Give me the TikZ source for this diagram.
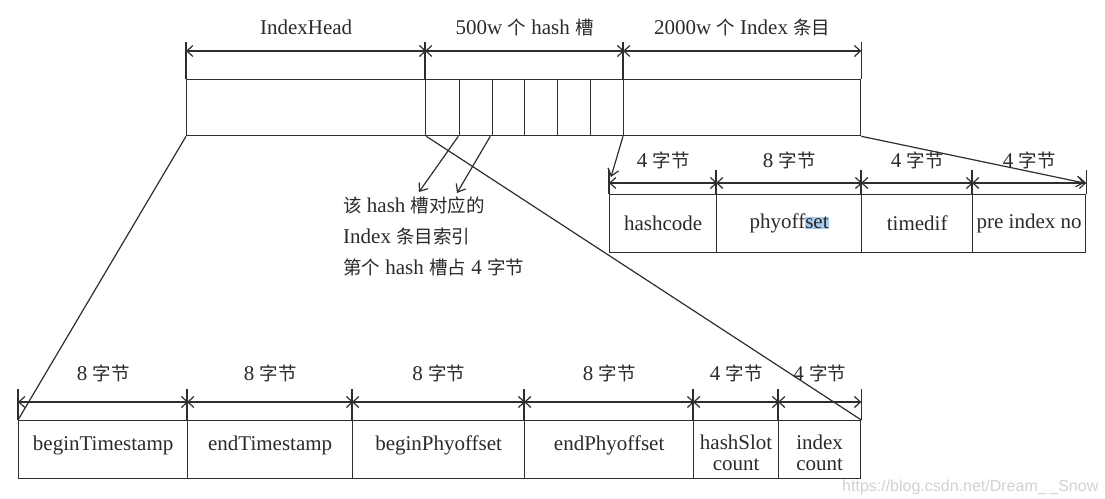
\documentclass[tikz,border=0pt]{standalone}
\usepackage{fontspec}
\setmainfont{Liberation Serif}
\newfontfamily\cjk[Scale=0.88]{Noto Sans CJK SC}
\newfontfamily\wmfont{Liberation Sans}
\usetikzlibrary{arrows.meta,calc}
\newcommand{\zh}[1]{{\cjk #1}}
\newcommand{\fs}{\fontsize{21}{23}\selectfont}
\newcommand{\twol}[2]{\fontsize{21}{20.5}\selectfont\begin{tabular}[t]{@{}c@{}}#1\\#2\end{tabular}}
\definecolor{lc}{HTML}{2E2E2E}
\definecolor{tc}{HTML}{2A2A2A}
\definecolor{hl}{HTML}{A9CBEA}
\begin{document}
\begin{tikzpicture}[x=1pt,y=-1pt,
  cell/.style={draw=lc, line width=1.3pt, anchor=north west, inner sep=0pt, font=\fs, text=tc, align=center},
  one/.style={text height=12pt, text depth=10pt},
  two/.style={text height=20pt, text depth=20pt},
  lbl/.style={font=\fs, text=tc, inner sep=0pt},
  tick/.style={draw=lc, line width=1.2pt},
  dim/.style={draw=lc, line width=1.2pt, {Straight Barb[length=6pt,width=11pt]}-{Straight Barb[length=6pt,width=11pt]}},
  conn/.style={draw=lc, line width=1.2pt},
  arr/.style={draw=lc, line width=1.2pt, -{Straight Barb[length=7pt,width=11pt]}}]
\useasboundingbox (0,0) rectangle (1105,498);

% ---------- top structure ----------
\node[cell, minimum width=239pt, minimum height=56pt] (head) at (186,79) {};
\node[cell, minimum width=34pt, minimum height=56pt] (s1) at (425,79) {};
\node[cell, minimum width=33pt, minimum height=56pt] (s2) at (459,79) {};
\node[cell, minimum width=32pt, minimum height=56pt] (s3) at (492,79) {};
\node[cell, minimum width=33pt, minimum height=56pt] (s4) at (524,79) {};
\node[cell, minimum width=33pt, minimum height=56pt] (s5) at (557,79) {};
\node[cell, minimum width=33pt, minimum height=56pt] (s6) at (590,79) {};
\node[cell, minimum width=237pt, minimum height=56pt] (idx) at (623,79) {};

\foreach \n in {head.north west, s1.north west, idx.north west, idx.north east}
  \draw[tick] (\n) -- ([yshift=37pt]\n);
\draw[dim] ([yshift=28pt]head.north west) -- ([yshift=28pt]head.north east);
\draw[dim] ([yshift=28pt]s1.north west) -- ([yshift=28pt]s6.north east);
\draw[dim] ([yshift=28pt]idx.north west) -- ([yshift=28pt]idx.north east);

\node[lbl] (lh) at ([yshift=52pt]head.north) {IndexHead};
\node[lbl] (ls) at ([yshift=52pt]$(s1.north west)!0.5!(s6.north east)$) {500w \zh{个} hash \zh{槽}};
\node[lbl] (li) at ([yshift=52pt]idx.north) {2000w \zh{个} Index \zh{条目}};

% ---------- right table ----------
\node[cell, minimum width=107pt, minimum height=58pt] (r1) at (609,194) {hashcode};
\node[cell, minimum width=145pt, minimum height=58pt] (r2) at (716,194) {phyoff{\setlength\fboxsep{0pt}\colorbox{hl}{set}}};
\node[cell, minimum width=111pt, minimum height=58pt] (r3) at (861,194) {timedif};
\node[cell, minimum width=113pt, minimum height=58pt] (r4) at (972,194) {pre index no};

\foreach \n in {r1.north west, r2.north west, r3.north west, r4.north west, r4.north east}
  \draw[tick] (\n) -- ([yshift=24pt]\n);
\foreach \c in {r1,r2,r3,r4}
  \draw[dim] ([yshift=11pt]\c.north west) -- ([yshift=11pt]\c.north east);
\node[lbl] (lr1) at ([yshift=34pt]r1.north) {4 \zh{字节}};
\node[lbl] (lr2) at ([yshift=34pt]r2.north) {8 \zh{字节}};
\node[lbl] (lr3) at ([yshift=34pt]r3.north) {4 \zh{字节}};
\node[lbl] (lr4) at ([yshift=34pt]r4.north) {4 \zh{字节}};

% ---------- bottom table ----------
\node[cell, one, minimum width=169pt, minimum height=58pt] (b1) at (18,420) {beginTimestamp};
\node[cell, one, minimum width=165pt, minimum height=58pt] (b2) at (187,420) {endTimestamp};
\node[cell, one, minimum width=172pt, minimum height=58pt] (b3) at (352,420) {beginPhyoffset};
\node[cell, one, minimum width=169pt, minimum height=58pt] (b4) at (524,420) {endPhyoffset};
\node[cell, two, minimum width=85pt, minimum height=58pt] (b5) at (693,420) {\twol{hashSlot}{count}};
\node[cell, two, minimum width=82pt, minimum height=58pt] (b6) at (778,420) {\twol{index}{count}};

\foreach \n in {b1.north west, b2.north west, b3.north west, b4.north west, b5.north west, b6.north west, b6.north east}
  \draw[tick] (\n) -- ([yshift=31pt]\n);
\foreach \c in {b1,b2,b3,b4,b5,b6}
  \draw[dim] ([yshift=18pt]\c.north west) -- ([yshift=18pt]\c.north east);
\node[lbl] (lb1) at ([yshift=47pt]b1.north) {8 \zh{字节}};
\node[lbl] (lb2) at ([yshift=47pt]b2.north) {8 \zh{字节}};
\node[lbl] (lb3) at ([yshift=47pt]b3.north) {8 \zh{字节}};
\node[lbl] (lb4) at ([yshift=47pt]b4.north) {8 \zh{字节}};
\node[lbl] (lb5) at ([yshift=47pt]b5.north) {4 \zh{字节}};
\node[lbl] (lb6) at ([yshift=47pt]b6.north) {4 \zh{字节}};

% ---------- note ----------
\node[lbl, anchor=north west, align=left, font=\fontsize{21}{31}\selectfont] (note) at (343,197)
  {\zh{该} hash \zh{槽对应的}\\Index \zh{条目索引}\\\zh{第个} hash \zh{槽占} 4 \zh{字节}};

% ---------- connectors ----------
\coordinate (h1) at (419,192);
\coordinate (h2) at (457,193);
\draw[arr] ([xshift=-2pt]s1.south east) -- (h1);
\draw[arr] ([xshift=-3pt]s2.south east) -- (h2);

\coordinate (ra) at (611,177);
\draw[arr] (idx.south west) -- (ra);
\draw[arr] (idx.south east) -- ([yshift=11pt,xshift=-2pt]r4.north east);

\draw[conn] (head.south west) -- (b1.north west);
\draw[conn] (head.south east) -- (b6.north east);

% ---------- watermark ----------
\node[anchor=west, inner sep=0pt, text=black!18, font=\wmfont\fontsize{16}{18}\selectfont] (wm) at (842,487) {https://blog.csdn.net/Dream\_\,\_Snow};
\end{tikzpicture}
\end{document}
